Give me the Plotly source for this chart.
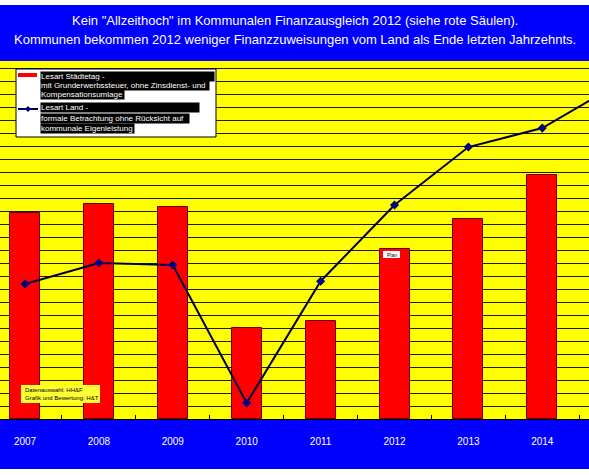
import plotly.graph_objects as go

# --- data (in grid units) ---
years = [2007, 2008, 2009, 2010, 2011, 2012, 2013, 2014, 2015]
staedtetag = [15.85, 16.54, 16.31, 7.0, 7.54, 13.08, 15.38, 18.77]
land = [10.38, 12.0, 11.85, 1.23, 10.6, 16.46, 20.92, 22.38, 25.7]
year_labels = ["2007", "2008", "2009", "2010", "2011", "2012", "2013", "2014"]

W, H = 589, 475
TOP, BOT = 61, 419
FONT = "Liberation Sans, Arial, sans-serif"


def px(x):
    return x / W


def py(y):
    return (BOT - y) / (BOT - TOP)


xs = list(range(len(years)))

fig = go.Figure()
fig.add_trace(go.Bar(
    x=xs[:len(staedtetag)], y=staedtetag, width=0.406,
    marker=dict(color="#ff0000", line=dict(color="#6a0000", width=1)),
    showlegend=False,
))
fig.add_trace(go.Scatter(
    x=xs, y=land, mode="lines+markers",
    line=dict(color="#000040", width=2),
    marker=dict(symbol="diamond", size=7, color="#000080"),
    showlegend=False,
))

shapes = [
    # blue bands
    dict(type="rect", xref="paper", yref="paper", x0=0, x1=1, y0=py(TOP), y1=py(5),
         fillcolor="#0000ff", line_width=0, layer="below"),
    dict(type="rect", xref="paper", yref="paper", x0=0, x1=1, y0=py(BOT), y1=py(469),
         fillcolor="#0000ff", line_width=0, layer="below"),
    # legend box
    dict(type="rect", xref="paper", yref="paper", x0=px(16), x1=px(216), y0=py(69), y1=py(137),
         fillcolor="white", line=dict(color="black", width=1), layer="above"),
    dict(type="line", xref="paper", yref="paper", x0=px(18), x1=px(37), y0=py(75), y1=py(75),
         line=dict(color="#ff0000", width=4), layer="above"),
    dict(type="line", xref="paper", yref="paper", x0=px(18), x1=px(38), y0=py(109), y1=py(109),
         line=dict(color="#000060", width=2), layer="above"),
    dict(type="path", xref="paper", yref="paper",
         path="M %f,%f L %f,%f L %f,%f L %f,%f Z" % (
             px(25), py(109), px(28), py(106), px(31), py(109), px(28), py(112)),
         fillcolor="#000080", line_width=0, layer="above"),
    # source box
    dict(type="rect", xref="paper", yref="paper", x0=px(21), x1=px(100), y0=py(385), y1=py(403),
         fillcolor="#ffff33", line_width=0, layer="above"),
    # 2012 label box
    dict(type="rect", xref="paper", yref="paper", x0=px(383), x1=px(400), y0=py(251), y1=py(258),
         fillcolor="white", line_width=0, layer="above"),
]

annotations = [
    dict(text='Kein "Allzeithoch" im Kommunalen Finanzausgleich 2012 (siehe rote Säulen).',
         x=0.5, y=py(20)),
    dict(text="Kommunen bekommen 2012 weniger Finanzzuweisungen vom Land als Ende letzten Jahrzehnts.",
         x=0.5, y=py(40)),
]
for a in annotations:
    a.update(xanchor="center", yanchor="middle",
             font=dict(color="white", size=13, family=FONT))

legend_lines = [
    ("Lesart Städtetag -", 76, 173),
    ("mit Grunderwerbssteuer, ohne Zinsdienst- und", 86, 168),
    ("Kompensationsumlage", 95, 83),
    ("Lesart Land -", 108, 158),
    ("formale Betrachtung ohne Rücksicht auf", 118, 148),
    ("kommunale Eigenleistung", 128, 93),
]
for txt, yy, wd in legend_lines:
    annotations.append(dict(
        text=txt, x=px(40), y=py(yy), xanchor="left", yanchor="middle",
        width=wd, height=9, align="left", bgcolor="black", borderpad=0,
        font=dict(color="white", size=8, family=FONT)))

annotations += [
    dict(text="Datenauswahl: HH&F", x=px(23), y=py(390), xanchor="left", yanchor="middle",
         font=dict(color="black", size=6, family=FONT)),
    dict(text="Grafik und Bewertung: H&T", x=px(23), y=py(398), xanchor="left", yanchor="middle",
         font=dict(color="black", size=6, family=FONT)),
    dict(text="Plan", x=px(391.5), y=py(254.5), xanchor="center", yanchor="middle",
         font=dict(color="black", size=5, family=FONT)),
]
for a in annotations:
    a.update(xref="paper", yref="paper", showarrow=False)

fig.update_layout(
    width=W, height=H,
    margin=dict(l=0, r=0, t=TOP, b=H - BOT, pad=0),
    paper_bgcolor="white",
    plot_bgcolor="#ffff00",
    bargap=0,
    shapes=shapes,
    annotations=annotations,
    showlegend=False,
)
fig.update_xaxes(
    range=[-25 / 73.9, (W - 25) / 73.9],
    tickvals=list(range(len(year_labels))), ticktext=year_labels,
    ticks="", showgrid=False, zeroline=False,
    showline=True, linecolor="black", linewidth=1,
    ticklabelstandoff=13,
    tickfont=dict(color="white", size=10, family=FONT),
    minor=dict(tickvals=[i + 0.5 for i in range(len(year_labels))],
               ticks="inside", ticklen=4, tickcolor="black", showgrid=False),
)
fig.update_yaxes(
    range=[0, 27.54], dtick=1, showticklabels=False,
    showgrid=True, gridcolor="#1a1a1a", gridwidth=1, zeroline=False,
)

fig.write_html("out.html", config={"displayModeBar": False},
               post_script="document.body.style.margin='0';")
